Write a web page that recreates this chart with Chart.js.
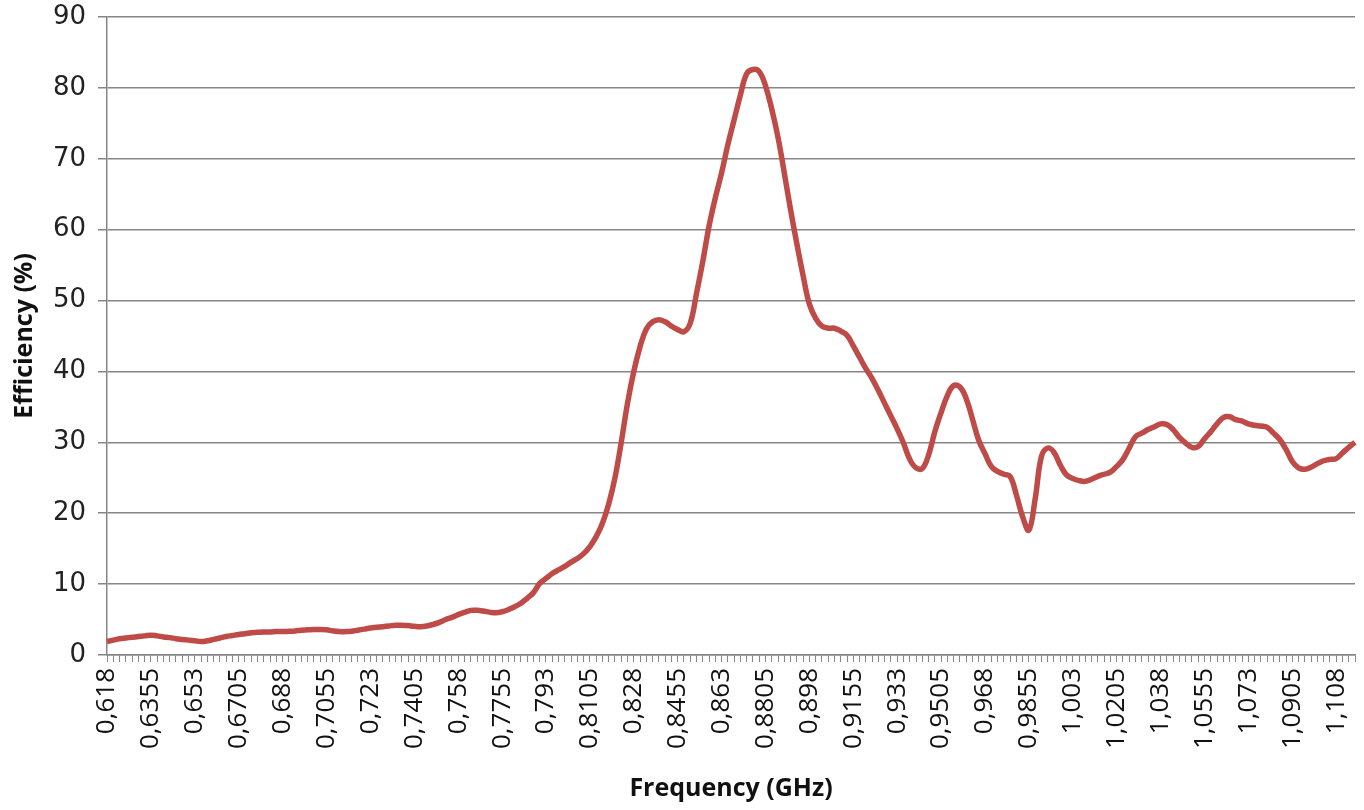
<!DOCTYPE html>
<html>
<head>
<meta charset="utf-8">
<script src="https://cdn.jsdelivr.net/npm/chart.js@4.4.1/dist/chart.umd.min.js"></script>
<style>
  html, body { margin: 0; padding: 0; background: #ffffff; }
  #wrap { width: 1364px; height: 810px; position: relative; }
</style>
</head>
<body>
<div id="wrap"><canvas id="c" width="1364" height="810"></canvas></div>
<script>
// Frequency categories (GHz), one per measured point
const frequencies = [
  0.618,0.6205,0.623,0.6255,0.628,0.6305,0.633,0.6355,0.638,0.6405,
  0.643,0.6455,0.648,0.6505,0.653,0.6555,0.658,0.6605,0.663,0.6655,
  0.668,0.6705,0.673,0.6755,0.678,0.6805,0.683,0.6855,0.688,0.6905,
  0.693,0.6955,0.698,0.7005,0.703,0.7055,0.708,0.7105,0.713,0.7155,
  0.718,0.7205,0.723,0.7255,0.728,0.7305,0.733,0.7355,0.738,0.7405,
  0.743,0.7455,0.748,0.7505,0.753,0.7555,0.758,0.7605,0.763,0.7655,
  0.768,0.7705,0.773,0.7755,0.778,0.7805,0.783,0.7855,0.788,0.7905,
  0.793,0.7955,0.798,0.8005,0.803,0.8055,0.808,0.8105,0.813,0.8155,
  0.818,0.8205,0.823,0.8255,0.828,0.8305,0.833,0.8355,0.838,0.8405,
  0.843,0.8455,0.848,0.8505,0.853,0.8555,0.858,0.8605,0.863,0.8655,
  0.868,0.8705,0.873,0.8755,0.878,0.8805,0.883,0.8855,0.888,0.8905,
  0.893,0.8955,0.898,0.9005,0.903,0.9055,0.908,0.9105,0.913,0.9155,
  0.918,0.9205,0.923,0.9255,0.928,0.9305,0.933,0.9355,0.938,0.9405,
  0.943,0.9455,0.948,0.9505,0.953,0.9555,0.958,0.9605,0.963,0.9655,
  0.968,0.9705,0.973,0.9755,0.978,0.9805,0.983,0.9855,0.988,0.9905,
  0.993,0.9955,0.998,1.0005,1.003,1.0055,1.008,1.0105,1.013,1.0155,
  1.018,1.0205,1.023,1.0255,1.028,1.0305,1.033,1.0355,1.038,1.0405,
  1.043,1.0455,1.048,1.0505,1.053,1.0555,1.058,1.0605,1.063,1.0655,
  1.068,1.0705,1.073,1.0755,1.078,1.0805,1.083,1.0855,1.088,1.0905,
  1.093,1.0955,1.098,1.1005,1.103,1.1055,1.108,1.1105,1.113,1.1155
];

// Efficiency (%)
const efficiency = [
  1.9,2.1,2.3,2.4,2.5,2.6,2.7,2.8,2.7,2.55,
  2.45,2.3,2.2,2.1,2.0,1.9,2.0,2.2,2.4,2.6,
  2.75,2.9,3.0,3.15,3.2,3.25,3.25,3.3,3.3,3.35,
  3.4,3.5,3.55,3.6,3.6,3.55,3.4,3.3,3.3,3.35,
  3.5,3.65,3.8,3.9,4.0,4.1,4.2,4.2,4.15,4.05,
  4.0,4.1,4.3,4.6,5.0,5.3,5.7,6.0,6.3,6.3,
  6.2,6.05,5.95,6.1,6.4,6.8,7.3,8.0,8.8,10.1,
  10.8,11.5,12.0,12.5,13.1,13.6,14.3,15.3,16.7,18.6,
  21.3,25.0,30.0,35.5,40.0,43.5,46.0,47.0,47.3,47.0,
  46.4,45.9,45.6,46.8,51.0,55.5,60.5,64.5,68.0,72.0,
  75.5,79.0,82.0,82.6,82.3,80.3,77.0,73.0,68.0,62.8,
  58.0,53.5,49.5,47.5,46.4,46.1,46.1,45.7,45.1,43.6,
  42.0,40.4,39.0,37.3,35.5,33.7,31.9,29.9,27.6,26.4,
  26.3,28.2,31.5,34.2,36.6,38.0,37.8,36.2,33.3,30.3,
  28.4,26.6,25.9,25.5,25.2,22.6,19.5,17.6,22.0,28.0,
  29.2,28.6,26.8,25.4,24.9,24.6,24.5,24.8,25.2,25.5,
  25.8,26.6,27.6,29.2,30.8,31.3,31.8,32.2,32.6,32.5,
  31.8,30.7,29.9,29.3,29.4,30.5,31.5,32.6,33.5,33.6,
  33.2,33.0,32.6,32.4,32.3,32.1,31.3,30.4,29.0,27.3,
  26.4,26.2,26.5,27.0,27.4,27.6,27.7,28.5,29.3,30.0
];

// Tick labels shown on the x axis (every 7th category)
const xTickLabels = [
  "0,618","0,6355","0,653","0,6705","0,688","0,7055","0,723","0,7405","0,758","0,7755",
  "0,793","0,8105","0,828","0,8455","0,863","0,8805","0,898","0,9155","0,933","0,9505",
  "0,968","0,9855","1,003","1,0205","1,038","1,0555","1,073","1,0905","1,108"
];
const labelEvery = 7;

const yMin = 0, yMax = 90, yStep = 10;
const xTitle = "Frequency (GHz)";
const yTitle = "Efficiency (%)";

const PLOT_LEFT = 107, PLOT_BOTTOM = 655;

new Chart(document.getElementById('c'), {
  type: 'line',
  data: {
    labels: frequencies,
    datasets: [{
      data: efficiency,
      borderColor: '#BE4B48',
      borderWidth: 5.5,
      pointRadius: 0,
      pointHoverRadius: 0,
      tension: 0.4,
      fill: false
    }]
  },
  options: {
    responsive: false,
    animation: false,
    devicePixelRatio: 1,
    layout: { padding: { left: 0, right: 9, top: 17, bottom: 6 } },
    plugins: { legend: { display: false }, tooltip: { enabled: false } },
    scales: {
      x: {
        type: 'category',
        offset: false,
        border: { display: true, color: '#868686', width: 1.5 },
        grid: {
          drawOnChartArea: false,
          drawTicks: true,
          tickLength: 7,
          color: '#868686',
          lineWidth: 1
        },
        ticks: {
          autoSkip: false,
          maxRotation: 90,
          minRotation: 90,
          padding: 6,
          color: '#111111',
          font: { family: 'Open Sans', size: 26 },
          callback: function (value, index) {
            return index % labelEvery === 0 ? (xTickLabels[index / labelEvery] || '') : '';
          }
        },
        title: {
          display: true,
          text: xTitle,
          color: '#111111',
          font: { family: 'Open Sans', size: 25, weight: 'bold' },
          padding: { top: 0, bottom: 0 }
        },
        afterFit: function (scale) {
          scale.height = 810 - PLOT_BOTTOM - 6;
          scale.paddingLeft = 0;
          scale.paddingRight = 0;
        }
      },
      y: {
        min: yMin,
        max: yMax,
        border: { display: true, color: '#868686', width: 1.5 },
        grid: {
          color: '#868686',
          lineWidth: 1.5,
          drawTicks: true,
          tickLength: 9
        },
        ticks: {
          stepSize: yStep,
          padding: 12,
          color: '#222222',
          font: { family: 'DejaVu Sans', size: 26 }
        },
        title: {
          display: true,
          text: yTitle,
          color: '#111111',
          font: { family: 'Open Sans', size: 25, weight: 'bold' },
          padding: { top: 10, bottom: 0 }
        },
        afterFit: function (scale) {
          scale.width = PLOT_LEFT;
          scale.paddingTop = 0;
          scale.paddingBottom = 0;
        }
      }
    }
  }
});
</script>
</body>
</html>
